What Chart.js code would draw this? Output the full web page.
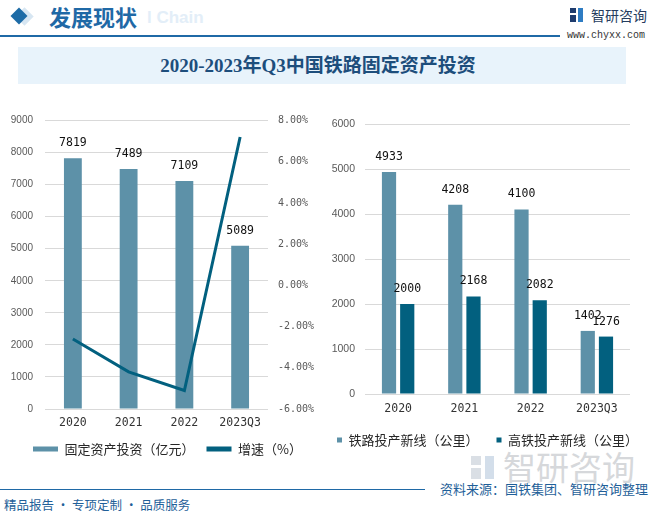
<!DOCTYPE html>
<html><head><meta charset="utf-8">
<script src="https://cdn.jsdelivr.net/npm/chart.js@4.4.0/dist/chart.umd.min.js"></script>
<style>
body{margin:0;width:652px;height:517px;position:relative;background:#fff;overflow:hidden;font-family:"Noto Sans CJK SC",sans-serif;}
.abs{position:absolute;white-space:nowrap;}
</style></head><body>
<!-- header -->
<div class="abs" style="left:147px;top:8px;font:bold 17px 'Liberation Sans';color:#E3EEF8;">l Chain</div>
<div class="abs" style="left:18px;top:9.5px;width:13px;height:13px;background:#D7E6F2;transform:rotate(45deg)"></div>
<div class="abs" style="left:12.5px;top:10px;width:12px;height:12px;background:#1D6BA6;transform:rotate(45deg)"></div>
<div class="abs" style="left:49px;top:4px;font:bold 22px/24px 'Noto Sans CJK SC';color:#1F69A6;">发展现状</div>
<div class="abs" style="left:0;top:34.5px;width:560px;height:2px;background:#1F69A6"></div>
<div class="abs" style="left:570px;top:8px;width:6px;height:5px;background:#1E3C6E"></div>
<div class="abs" style="left:570px;top:15px;width:6px;height:7px;background:#1E3C6E"></div>
<div class="abs" style="left:578px;top:8px;width:5px;height:14px;background:#2E7CC3"></div>
<div class="abs" style="left:591px;top:6px;font:14px/18px 'Noto Sans CJK SC';color:#253C5E;">智研咨询</div>
<div class="abs" style="left:567px;top:30px;font:10px/12px 'Liberation Mono';color:#333;">www.chyxx.com</div>
<!-- title -->
<div class="abs" style="left:18px;top:47px;width:608px;height:37px;background:#E8F3FB"></div>
<div class="abs" style="left:14px;top:47px;width:608px;height:37px;line-height:37px;text-align:center;font-weight:bold;font-size:19px;font-family:'Liberation Serif','Noto Sans CJK SC';color:#1D4E7C;">2020-2023年Q3中国铁路固定资产投资</div>
<!-- watermark -->
<div class="abs" style="left:471px;top:456px;width:10px;height:9px;background:#DADFE5"></div>
<div class="abs" style="left:471px;top:468px;width:10px;height:11px;background:#DADFE5"></div>
<div class="abs" style="left:485px;top:456px;width:9px;height:23px;background:#D3DEEA"></div>
<div class="abs" style="left:503px;top:447px;font:33px/38px 'Noto Sans CJK SC';color:#D6D8DB;">智研咨询</div>
<!-- footer -->
<div class="abs" style="left:0;top:488.5px;width:425px;height:1.5px;background:#1F69A6"></div>
<div class="abs" style="right:4px;top:480px;font:13px/18px 'Noto Sans CJK SC';color:#1F5F99;">资料来源：国铁集团、智研咨询整理</div>
<div class="abs" style="left:4px;top:496px;font:12.5px/17px 'Noto Sans CJK SC';color:#1F5F99;">精品报告 · 专项定制 · 品质服务</div>

<canvas id="c1" class="abs" style="left:0;top:100px;width:320px;height:380px" width="320" height="380"></canvas>
<canvas id="c2" class="abs" style="left:300px;top:100px;width:352px;height:380px" width="352" height="380"></canvas>
<script>
const categories = ['2020', '2021', '2022', '2023Q3'];
const investment = [7819, 7489, 7109, 5089];
const growthRate = [-2.6, -4.2, -5.1, 7.2];
const railNewLine = [4933, 4208, 4100, 1402];
const hsrNewLine = [2000, 2168, 2082, 1276];
const leftSeriesNames = ['固定资产投资（亿元）', '增速（%）'];
const rightSeriesNames = ['铁路投产新线（公里）', '高铁投产新线（公里）'];

const LIGHT = '#5D91A8';
const DARK = '#02607F';
const GRID = '#D9D9D9';

const valueLabels = {
  id: 'valueLabels',
  afterDatasetsDraw(chart) {
    const ctx = chart.ctx;
    ctx.save();
    ctx.font = '11.5px "DejaVu Sans Mono"';
    ctx.fillStyle = '#111';
    ctx.textAlign = 'center';
    ctx.textBaseline = 'middle';
    chart.data.datasets.forEach((ds, i) => {
      if ((ds.type || chart.config.type) !== 'bar') return;
      const meta = chart.getDatasetMeta(i);
      meta.data.forEach((el, j) => {
        ctx.fillText(String(ds.data[j]), el.x, el.y - 15);
      });
    });
    ctx.restore();
  }
};

// moves the legend block so its first item starts at startX and text centre is at centerY
const legendShift = {
  id: 'legendShift',
  afterLayout(chart, args, o) {
    const lg = chart.legend;
    if (!lg || !lg.lineWidths) return;
    const P = lg.options.labels.padding;
    const fs = lg.options.labels.font.size;
    const curStart = (lg.left + P + lg.right - lg.lineWidths[0]) / 2;
    const dx = o.startX - curStart;
    const dy = o.centerY - (lg.top + P + fs / 2);
    lg.left += dx; lg.right += dx; lg.top += dy; lg.bottom += dy;
  }
};

Chart.defaults.animation = false;
Chart.defaults.devicePixelRatio = 1;
const plain = v => String(v);

new Chart(document.getElementById('c1'), {
  type: 'bar',
  data: {
    labels: categories,
    datasets: [
      { type: 'bar', label: leftSeriesNames[0], data: investment, backgroundColor: LIGHT, yAxisID: 'y', order: 1,
        categoryPercentage: 0.8, barPercentage: 0.4 },
      { type: 'line', label: leftSeriesNames[1], data: growthRate, borderColor: DARK, backgroundColor: DARK,
        borderWidth: 3, pointRadius: 0, tension: 0, yAxisID: 'y1', order: 0 }
    ]
  },
  options: {
    responsive: false,
    layout: { padding: { left: 0, right: 0, top: 20.5, bottom: 12 } },
    plugins: {
      tooltip: { enabled: false },
      legendShift: { startX: 33, centerY: 349 },
      legend: {
        position: 'bottom',
        labels: {
          boxWidth: 25, boxHeight: 5, padding: 12, color: '#262626',
          font: { size: 13, family: '"Noto Sans CJK SC"' },
          generateLabels(chart) {
            return chart.data.datasets.map((ds, i) => ({
              text: ds.label, fillStyle: i === 0 ? LIGHT : DARK, strokeStyle: i === 0 ? LIGHT : DARK,
              lineWidth: 0, datasetIndex: i, hidden: false, fontColor: '#262626'
            }));
          }
        }
      }
    },
    scales: {
      x: {
        grid: { display: false, drawTicks: false }, border: { display: false },
        ticks: { color: '#333', font: { size: 11.5, family: '"DejaVu Sans Mono"' }, padding: 7 },
        afterFit(s) { s.height = 24; }
      },
      y: {
        position: 'left', min: 0, max: 9000,
        ticks: { stepSize: 1000, color: '#595959', font: { size: 10, family: '"Liberation Sans"' }, padding: 12, callback: plain },
        grid: { color: GRID, drawTicks: false }, border: { display: false },
        afterFit(s) { s.width = 45; }
      },
      y1: {
        position: 'right', min: -6, max: 8,
        ticks: { stepSize: 2, color: '#595959', font: { size: 10, family: '"DejaVu Sans Mono"' }, padding: 10,
          callback: v => v.toFixed(2) + '%' },
        grid: { display: false, drawTicks: false }, border: { display: false },
        afterFit(s) { s.width = 52; }
      }
    }
  },
  plugins: [valueLabels, legendShift]
});

new Chart(document.getElementById('c2'), {
  type: 'bar',
  data: {
    labels: categories,
    datasets: [
      { label: rightSeriesNames[0], data: railNewLine, backgroundColor: LIGHT, categoryPercentage: 0.55, barPercentage: 0.78 },
      { label: rightSeriesNames[1], data: hsrNewLine, backgroundColor: DARK, categoryPercentage: 0.55, barPercentage: 0.78 }
    ]
  },
  options: {
    responsive: false,
    layout: { padding: { left: 0, right: 0, top: 24, bottom: 21 } },
    plugins: {
      tooltip: { enabled: false },
      legendShift: { startX: 37, centerY: 340 },
      legend: {
        position: 'bottom',
        labels: {
          boxWidth: 5, boxHeight: 5, padding: 18, color: '#262626',
          font: { size: 13, family: '"Noto Sans CJK SC"' }
        }
      }
    },
    scales: {
      x: {
        grid: { display: false, drawTicks: false }, border: { display: false },
        ticks: { color: '#333', font: { size: 11.5, family: '"DejaVu Sans Mono"' }, padding: 8 },
        afterFit(s) { s.height = 24; }
      },
      y: {
        min: 0, max: 6000,
        ticks: { stepSize: 1000, color: '#595959', font: { size: 10.5, family: '"Liberation Sans"' }, padding: 10, callback: plain },
        grid: { color: GRID, drawTicks: false }, border: { display: false },
        afterFit(s) { s.width = 65; }
      },
      yPad: {
        position: 'right', display: true,
        ticks: { display: false }, grid: { display: false, drawTicks: false }, border: { display: false },
        afterFit(s) { s.width = 22; }
      }
    }
  },
  plugins: [valueLabels, legendShift]
});
</script>
</body></html>
